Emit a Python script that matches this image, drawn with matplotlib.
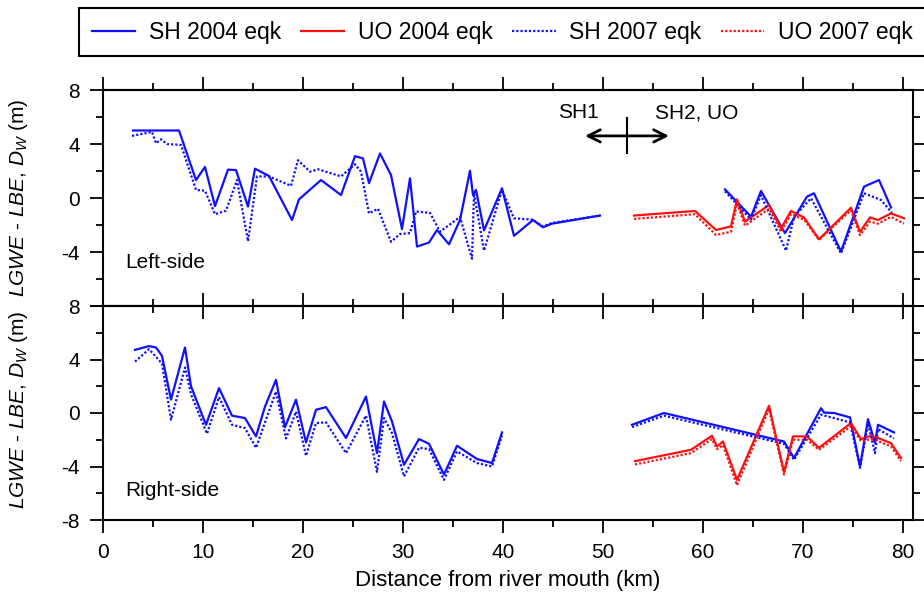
import numpy as np
import matplotlib
matplotlib.use("Agg")
import matplotlib.pyplot as plt
from matplotlib.ticker import MultipleLocator

plt.rcParams['font.family'] = ['Liberation Sans', 'DejaVu Sans']
plt.rcParams['mathtext.fontset'] = 'custom'
plt.rcParams['mathtext.rm'] = 'Liberation Sans'
plt.rcParams['mathtext.it'] = 'Liberation Sans:italic'
plt.rcParams['mathtext.default'] = 'it'

# ---------------- data : Left-side (top panel) ----------------
sh04_L_x = [3.0, 7.6, 9.3, 10.2, 11.2, 12.5, 13.3, 14.5, 15.2, 16.6, 18.9, 19.6, 21.8, 23.8, 25.2, 26.0,
            26.6, 27.7, 28.8, 29.9, 30.7, 31.4, 32.6, 33.4, 34.6, 35.7, 36.7, 37.0, 37.3, 38.1, 39.9, 41.1,
            43.0, 44.0, 44.9, 49.7,
            np.nan, 62.2, 64.8, 65.8, 68.2, 70.4, 71.1, 73.8, 76.1, 77.6, 78.8]
sh04_L_y = [5.0, 5.0, 1.33, 2.3, -0.6, 2.1, 2.07, -0.64, 2.17, 1.63, -1.63, -0.1, 1.33, 0.22, 3.1, 2.93,
            1.1, 3.3, 1.7, -2.3, 1.46, -3.6, -3.3, -2.37, -3.43, -1.63, 2.02, 0.22, 0.6, -2.4, 0.72, -2.8,
            -1.63, -2.17, -1.9, -1.3,
            np.nan, 0.64, -1.38, 0.52, -2.6, 0.1, 0.35, -3.97, 0.84, 1.33, -0.7]

sh07_L_x = [2.9, 4.9, 5.3, 5.8, 6.4, 7.8, 9.3, 10.2, 11.2, 12.3, 13.4, 14.5, 15.4, 16.6, 18.8, 19.5,
            20.7, 21.5, 23.8, 25.2, 25.8, 26.6, 27.5, 28.8, 29.7, 30.7, 31.3, 32.7, 33.7, 35.7, 36.9, 37.1,
            38.1, 39.9, 41.1, 42.9, 44.0, 44.9, 49.7,
            np.nan, 62.2, 64.8, 65.8, 68.3, 69.1, 70.8, 73.8, 76.1, 77.8, 78.9]
sh07_L_y = [4.6, 4.9, 4.05, 4.35, 4.0, 3.93, 0.6, 0.54, -1.2, -0.94, 1.33, -3.2, 1.6, 1.6, 0.9, 2.8,
            1.95, 2.13, 1.6, 2.5, 1.95, -1.14, -0.8, -3.24, -2.67, -2.6, -1.0, -1.1, -2.5, -1.4, -4.5, 0.35,
            -3.9, 0.6, -1.5, -1.6, -2.1, -1.85, -1.3,
            np.nan, 0.5, -1.6, 0.2, -3.9, -1.4, -0.02, -4.1, 0.35, -0.15, -1.1]

uo_L_x = [53.1, 59.2, 61.3, 62.8, 63.4, 64.2, 66.6, 67.8, 68.8, 70.1, 71.6, 74.8, 75.7, 76.7, 77.5, 78.8, 80.1]
uo04_L_y = [-1.3, -0.96, -2.37, -2.1, -0.1, -1.75, -0.52, -2.25, -0.96, -1.44, -3.06, -0.72, -2.5, -1.44,
            -1.63, -1.14, -1.5]
uo07_L_y = [-1.55, -1.2, -2.74, -2.5, -0.4, -2.05, -0.8, -2.5, -1.2, -1.6, -3.1, -0.9, -2.75, -1.75,
            -1.9, -1.4, -1.9]

# ---------------- data : Right-side (bottom panel) ----------------
sh04_R_x = [3.2, 4.6, 5.3, 5.9, 6.8, 8.2, 8.8, 10.3, 11.6, 12.9, 14.2, 15.3, 16.2, 17.3, 18.2, 19.3,
            20.3, 21.3, 22.3, 24.3, 26.3, 27.4, 28.1, 28.9, 30.1, 31.6, 32.6, 34.1, 35.4, 37.4, 38.9, 39.9,
            np.nan, 52.9, 56.1, 68.1, 69.1, 71.8, 72.1, 73.1, 74.7, 75.7, 76.5, 77.2, 77.5, 79.1]
sh04_R_y = [4.72, 5.0, 4.9, 4.27, 1.0, 4.9, 2.0, -0.88, 1.86, -0.2, -0.38, -1.75, 0.48, 2.48, -1.06, 1.0,
            -2.2, 0.24, 0.44, -1.87, 1.23, -3.0, 0.86, -0.63, -3.87, -1.95, -2.3, -4.6, -2.45, -3.44, -3.74, -1.45,
            np.nan, -0.88, 0.0, -2.13, -3.37, 0.36, 0.03, 0.0, -0.33, -4.0, -0.46, -2.25, -0.88, -1.45]

sh07_R_x = [3.2, 4.6, 5.9, 6.8, 8.2, 8.8, 10.4, 11.6, 12.9, 14.2, 15.3, 17.3, 18.3, 19.3, 20.3, 21.3,
            22.3, 24.3, 26.3, 27.4, 28.1, 28.9, 30.1, 31.6, 32.6, 34.1, 35.4, 37.4, 38.9, 39.9,
            np.nan, 52.9, 56.1, 68.1, 69.1, 71.8, 73.1, 74.7, 75.7, 76.5, 77.2, 77.5, 79.1]
sh07_R_y = [3.84, 4.77, 3.7, -0.5, 3.4, 1.4, -1.55, 1.19, -0.88, -1.13, -2.6, 1.6, -1.9, 0.1, -3.2, -0.75,
            -0.7, -3.0, -0.2, -4.4, -0.38, -1.5, -4.74, -2.6, -2.7, -5.0, -2.87, -3.74, -4.0, -1.7,
            np.nan, -1.05, -0.2, -2.3, -3.5, -0.13, -0.38, -0.7, -4.1, -0.8, -3.0, -1.2, -1.9]

uo_R_x = [53.2, 58.8, 60.9, 61.4, 62.0, 63.4, 66.6, 68.1, 69.0, 70.4, 71.6, 74.8, 75.8, 76.8, 77.5, 78.8, 79.8]
uo04_R_y = [-3.6, -2.75, -1.7, -2.5, -2.13, -5.0, 0.54, -4.4, -1.75, -1.75, -2.6, -0.75, -1.95, -1.7,
            -1.87, -2.25, -3.37]
uo07_R_y = [-3.85, -3.0, -1.95, -2.7, -2.4, -5.4, 0.3, -4.6, -2.0, -2.0, -2.75, -1.0, -2.1, -1.95,
            -2.1, -2.5, -3.6]

legend_labels = ["SH 2004 eqk", "UO 2004 eqk", "SH 2007 eqk", "UO 2007 eqk"]
x_ticks = [0, 10, 20, 30, 40, 50, 60, 70, 80]
y_ticks = [-8, -4, 0, 4, 8]

BLUE = '#1010ff'
RED = '#ff1010'
LW = 1.6
DOT = (0, (1, 0.9))
FS = 15
MAJ, MIN, TPAD = 9.5, 5, 7

fig = plt.figure(figsize=(9.24, 6.01), dpi=100)
L, R = 103 / 924, 913 / 924
ytop, ymid, ybot = 1 - 90 / 601, 1 - 306 / 601, 1 - 520 / 601
ax1 = fig.add_axes([L, ymid, R - L, ytop - ymid])
ax2 = fig.add_axes([L, ybot, R - L, ymid - ybot])

# top panel
h1, = ax1.plot(sh04_L_x, sh04_L_y, color=BLUE, lw=LW, ls='-')
h2, = ax1.plot(uo_L_x, uo04_L_y, color=RED, lw=LW, ls='-')
h3, = ax1.plot(sh07_L_x, sh07_L_y, color=BLUE, lw=LW, ls=DOT)
h4, = ax1.plot(uo_L_x, uo07_L_y, color=RED, lw=LW, ls=DOT)

# bottom panel
ax2.plot(sh04_R_x, sh04_R_y, color=BLUE, lw=LW, ls='-')
ax2.plot(uo_R_x, uo04_R_y, color=RED, lw=LW, ls='-')
ax2.plot(sh07_R_x, sh07_R_y, color=BLUE, lw=LW, ls=DOT)
ax2.plot(uo_R_x, uo07_R_y, color=RED, lw=LW, ls=DOT)

for ax in (ax1, ax2):
    ax.set_xlim(0, 81)
    ax.set_ylim(-8, 8)
    ax.set_xticks(x_ticks)
    ax.xaxis.set_minor_locator(MultipleLocator(5))
    ax.set_yticks(y_ticks)
    ax.yaxis.set_minor_locator(MultipleLocator(2))
    for s in ax.spines.values():
        s.set_linewidth(1.5)
    ax.tick_params(axis='y', which='both', direction='out', left=True, right=True,
                   labelright=False, labelsize=FS, width=1.3, pad=TPAD)
    ax.tick_params(axis='y', which='major', length=MAJ)
    ax.tick_params(axis='y', which='minor', length=MIN)

ax1.set_yticklabels(['', '-4', '0', '4', '8'])
ax2.set_yticklabels(['-8', '-4', '0', '4', '8'])

# x ticks: top panel bottom -> in, bottom panel bottom -> out
ax1.tick_params(axis='x', which='both', direction='in', bottom=True, top=False,
                labelbottom=False, width=1.3)
ax1.tick_params(axis='x', which='major', length=MAJ)
ax1.tick_params(axis='x', which='minor', length=MIN)
ax2.tick_params(axis='x', which='both', direction='out', bottom=True, top=False,
                labelsize=FS, width=1.3, pad=TPAD)
ax2.tick_params(axis='x', which='major', length=MAJ)
ax2.tick_params(axis='x', which='minor', length=MIN)

sec1 = ax1.secondary_xaxis('top')
sec1.set_xticks(x_ticks)
sec1.xaxis.set_minor_locator(MultipleLocator(5))
sec1.tick_params(axis='x', which='both', direction='out', labeltop=False, width=1.3)
sec1.tick_params(axis='x', which='major', length=MAJ)
sec1.tick_params(axis='x', which='minor', length=MIN)
sec1.spines['top'].set_linewidth(1.5)

sec2 = ax2.secondary_xaxis('top')
sec2.set_xticks(x_ticks)
sec2.xaxis.set_minor_locator(MultipleLocator(5))
sec2.tick_params(axis='x', which='both', direction='in', labeltop=False, width=1.3)
sec2.tick_params(axis='x', which='major', length=MAJ)
sec2.tick_params(axis='x', which='minor', length=MIN)
sec2.spines['top'].set_linewidth(1.5)

ax2.set_xlabel('Distance from river mouth (km)', fontsize=16, labelpad=6)

ylab = r'$LGWE$ - $LBE$, $D_W$ (m)'
fig.text(19 / 924, 1 - 198 / 601, ylab, rotation=90, ha='center', va='center', fontsize=FS)
fig.text(19 / 924, 1 - 410 / 601, ylab, rotation=90, ha='center', va='center', fontsize=FS)

ax1.text(2.2, -4.8, 'Left-side', fontsize=FS, ha='left', va='center')
ax2.text(2.2, -5.8, 'Right-side', fontsize=FS, ha='left', va='center')

# SH1 / SH2, UO annotation
ax1.annotate('', xy=(48.2, 4.6), xytext=(52.4, 4.6),
             arrowprops=dict(arrowstyle='->', lw=2, color='black', mutation_scale=22,
                             shrinkA=0, shrinkB=0))
ax1.annotate('', xy=(56.6, 4.6), xytext=(52.4, 4.6),
             arrowprops=dict(arrowstyle='->', lw=2, color='black', mutation_scale=22,
                             shrinkA=0, shrinkB=0))
ax1.plot([52.4, 52.4], [3.3, 5.9], color='black', lw=1.5)
ax1.text(47.5, 6.3, 'SH1', fontsize=FS, ha='center', va='center')
ax1.text(59.4, 6.3, 'SH2, UO', fontsize=FS, ha='center', va='center')

leg = fig.legend([h1, h2, h3, h4], legend_labels, loc='upper left',
                 bbox_to_anchor=(79 / 924, 1 - 8 / 601), ncol=4, fontsize=16.5,
                 frameon=True, fancybox=False, edgecolor='black', framealpha=1,
                 handlelength=1.9, handletextpad=0.6, columnspacing=0.85,
                 borderpad=0.55, borderaxespad=0)
leg.get_frame().set_linewidth(1.5)

fig.savefig('out.png', dpi=100)
